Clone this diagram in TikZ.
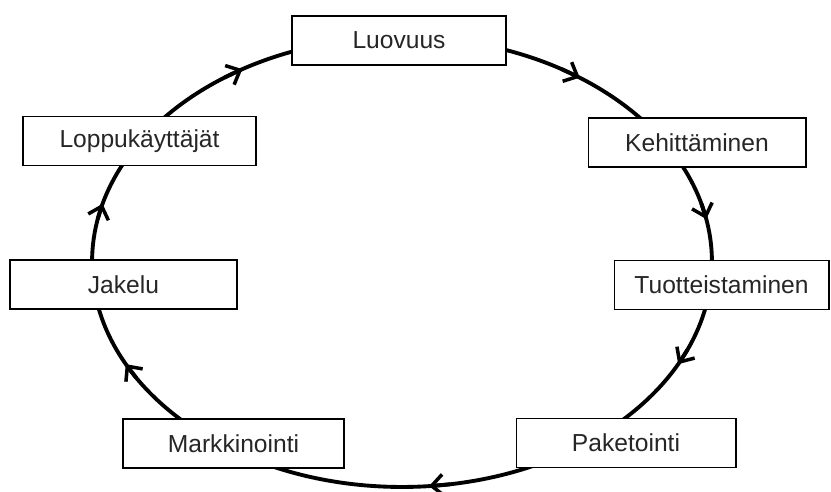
\documentclass[tikz,border=0pt]{standalone}
\usepackage{fontspec}
\setmainfont{Liberation Sans}
\usetikzlibrary{arrows.meta,calc}
\tikzset{
  vaihe/.style={draw, line width=0.6pt, fill=white, inner sep=0pt, minimum height=0.98cm,
    text=black!85, font=\fontsize{14}{16}\selectfont},
  keha/.style={line width=2.2pt, line cap=round},
  nuoli/.style={line width=2.2pt, -{Straight Barb[length=6.5pt,width=12pt,line width=2pt]}}
}
\begin{document}
\begin{tikzpicture}[x=0.02cm, y=-0.02cm]
            \useasboundingbox (0,0) rectangle (831,491);
            % Kehä
            \coordinate (keskus) at (402,262);
            \draw[keha] (keskus) ellipse [x radius=6.2cm, y radius=4.5cm];
            \foreach \t in {239,305,349,27,85,153,195} {
                \draw[nuoli] ($(keskus)+({310*cos(\t-4)},{225*sin(\t-4)})$)
                    -- ($(keskus)+({310*cos(\t)},{225*sin(\t)})$);
            }
            % Vaiheet
            \node[vaihe, minimum width=4.28cm] (luovuus) at (399,40.5) {Luovuus};
            \node[vaihe, minimum width=4.36cm] (kehitys) at (697,142.5) {Kehittäminen};
            \node[vaihe, minimum width=4.30cm] (tuotteistus) at (721.5,285) {Tuotteistaminen};
            \node[vaihe, minimum width=4.40cm] (paketointi) at (626,443) {Paketointi};
            \node[vaihe, minimum width=4.42cm] (markkinointi) at (233.5,443.5) {Markkinointi};
            \node[vaihe, minimum width=4.54cm] (jakelu) at (123.5,284.5) {Jakelu};
            \node[vaihe, minimum width=4.66cm] (kayttajat) at (139.5,141) {Loppukäyttäjät};
        \end{tikzpicture}
\end{document}
